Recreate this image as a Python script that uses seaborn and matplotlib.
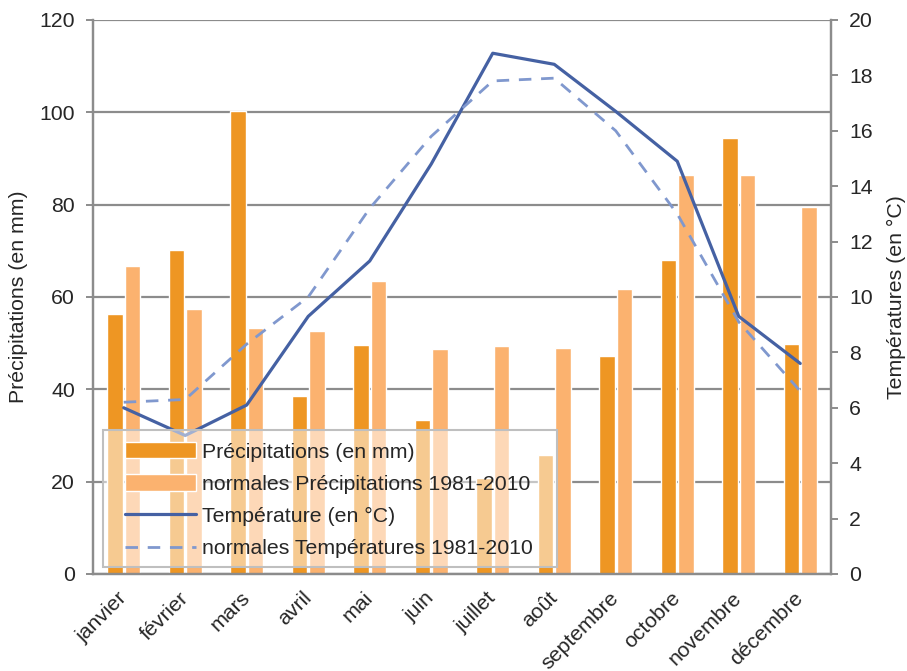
import numpy as np
import pandas as pd
import matplotlib
matplotlib.use("Agg")
import matplotlib.pyplot as plt
from matplotlib.patches import Patch, Rectangle
from matplotlib.lines import Line2D
import seaborn as sns

# données
mois = ["janvier", "février", "mars", "avril", "mai", "juin", "juillet",
        "août", "septembre", "octobre", "novembre", "décembre"]
precip = [56.3, 70.2, 100.3, 38.5, 49.6, 33.4, 20.8, 25.7, 47.3, 68.0, 94.4, 49.8]
precip_normales = [66.7, 57.4, 53.2, 52.6, 63.4, 48.7, 49.4, 49.0, 61.8, 86.5, 86.5, 79.6]
temp = [6.0, 5.0, 6.1, 9.3, 11.3, 14.8, 18.8, 18.4, 16.7, 14.9, 9.3, 7.6]
temp_normales = [6.2, 6.3, 8.3, 10.0, 13.2, 15.8, 17.8, 17.9, 16.0, 13.0, 9.1, 6.6]

lab_p = "Précipitations (en mm)"
lab_pn = "normales Précipitations 1981-2010"
lab_t = "Température (en °C)"
lab_tn = "normales Températures 1981-2010"

c_dark = "#EE9623"
c_light = "#FBB26F"
c_temp = "#4561A3"
c_tempn = "#8098CE"
c_axe = "#8C8C8C"

sns.set_style("white")
plt.rcParams["font.family"] = ["Liberation Sans", "DejaVu Sans"]
fs = 15.3

df = pd.DataFrame({
    "mois": mois * 2,
    "valeur": precip + precip_normales,
    "serie": [lab_p] * len(mois) + [lab_pn] * len(mois),
})

fig = plt.figure(figsize=(9.07, 6.71), dpi=100)
ax = fig.add_axes([0.1025, 0.1446, 0.8137, 0.8256])

sns.barplot(data=df, x="mois", y="valeur", hue="serie", order=mois,
            hue_order=[lab_p, lab_pn], palette=[c_dark, c_light],
            width=0.56, gap=0.1, edgecolor="white", linewidth=1.0,
            saturation=1, legend=False, ax=ax)

ax.set_ylim(0, 120)
ax.set_xlim(-0.5, len(mois) - 0.5)
ax.set_yticks(np.arange(0, 121, 20))
ax.set_axisbelow(True)
ax.yaxis.grid(True, color=c_axe, lw=1.6)
ax.xaxis.grid(False)
ax.set_xlabel("")
ax.set_ylabel("Précipitations (en mm)", fontsize=fs, labelpad=8)

# graduations de l'axe x entre les catégories
ax.set_xticks(np.arange(len(mois)))
ax.set_xticklabels(mois, rotation=45, ha="right", va="center",
                   rotation_mode="anchor", fontsize=fs)
ax.set_xticks(np.arange(-0.5, len(mois)), minor=True)
ax.tick_params(axis="x", which="major", length=0, pad=15)
ax.tick_params(axis="x", which="minor", length=5, width=1.4, color=c_axe)
ax.tick_params(axis="y", length=5, width=1.4, color=c_axe, labelsize=fs, pad=8)

ax2 = ax.twinx()
pos = np.arange(len(mois))
sns.lineplot(x=pos, y=temp, ax=ax2, color=c_temp, lw=2.3)
sns.lineplot(x=pos, y=temp_normales, ax=ax2, color=c_tempn, lw=2.0,
             dashes=False, linestyle=(0, (4.5, 3.5)))
ax2.set_ylim(0, 20)
ax2.set_yticks(np.arange(0, 21, 2))
ax2.set_ylabel("Températures (en °C)", fontsize=fs, labelpad=10)
ax2.tick_params(axis="y", length=5, width=1.4, color=c_axe, labelsize=fs, pad=8)
ax2.grid(False)

for a in (ax, ax2):
    for s in ["left", "right", "bottom"]:
        a.spines[s].set_color(c_axe)
        a.spines[s].set_linewidth(1.6)
    a.spines["top"].set_visible(False)

# cadre de la légende (blanc semi-transparent, au-dessus des courbes)
cadre = Rectangle((0.0136, 0.0126), 0.615, 0.247, transform=ax2.transAxes,
                  facecolor=(1, 1, 1, 0.5), edgecolor="#BFBFBF", lw=1.5, zorder=4)
ax2.add_patch(cadre)

handles = [
    Patch(facecolor=c_dark, edgecolor="white", label=lab_p),
    Patch(facecolor=c_light, edgecolor="white", label=lab_pn),
    Line2D([0], [0], color=c_temp, lw=2.3, label=lab_t),
    Line2D([0], [0], color=c_tempn, lw=2.0, linestyle=(0, (4.5, 3.5)), label=lab_tn),
]
leg = ax2.legend(handles=handles, loc="lower left", bbox_to_anchor=(0.044, 0.028),
                 borderaxespad=0, borderpad=0, fontsize=fs, frameon=False,
                 handlelength=3.3, handleheight=0.8, handletextpad=0.3,
                 labelspacing=0.6)
leg.set_zorder(5)

fig.savefig("out.png", dpi=100)
